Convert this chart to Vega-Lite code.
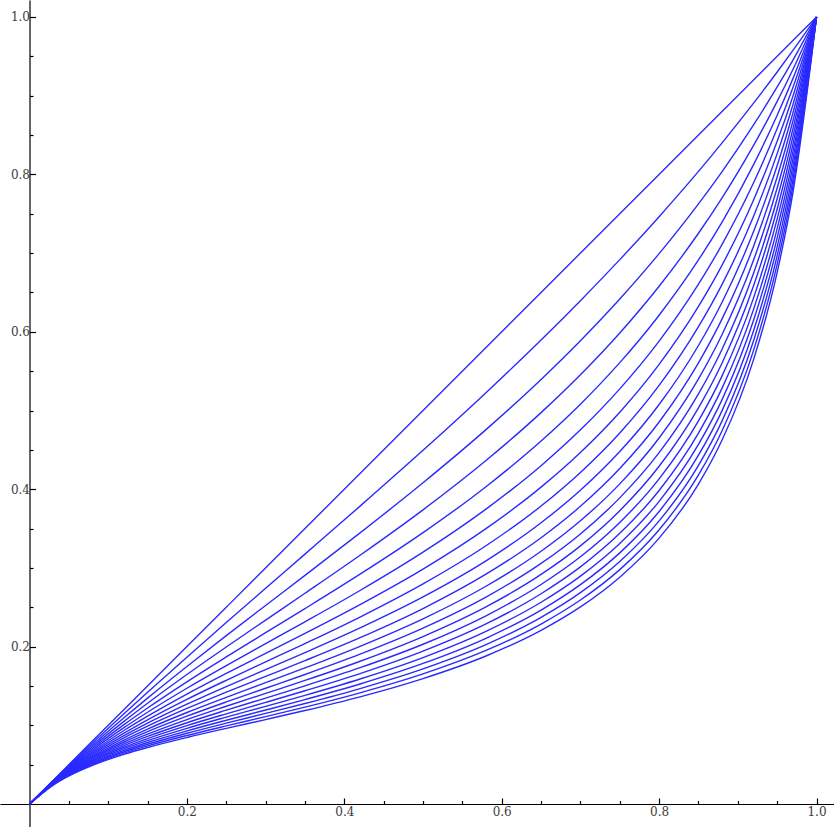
{
  "$schema": "https://vega.github.io/schema/vega-lite/v6.json",
  "width": 834,
  "height": 827,
  "autosize": {"type": "none"},
  "padding": 0,
  "background": "white",
  "config": {"view": {"stroke": null}},
  "data": {"values": [
    {"c":0,"x":0,"y":0},{"c":0,"x":0.03,"y":0.03},{"c":0,"x":0.08,"y":0.08},{"c":0,"x":0.15,"y":0.15},{"c":0,"x":0.25,"y":0.25},{"c":0,"x":0.35,"y":0.35},{"c":0,"x":0.5,"y":0.5},{"c":0,"x":0.65,"y":0.65},{"c":0,"x":0.75,"y":0.75},{"c":0,"x":0.85,"y":0.85},{"c":0,"x":0.92,"y":0.92},{"c":0,"x":0.97,"y":0.97},{"c":0,"x":1,"y":1},
    {"c":1,"x":0,"y":0},{"c":1,"x":0.03,"y":0.0296},{"c":1,"x":0.05,"y":0.0490},{"c":1,"x":0.08,"y":0.0774},{"c":1,"x":0.12,"y":0.1146},{"c":1,"x":0.15,"y":0.1419},{"c":1,"x":0.2,"y":0.1866},{"c":1,"x":0.25,"y":0.2306},{"c":1,"x":0.3,"y":0.2741},{"c":1,"x":0.35,"y":0.3175},{"c":1,"x":0.42,"y":0.3785},{"c":1,"x":0.5,"y":0.4494},{"c":1,"x":0.58,"y":0.5227},{"c":1,"x":0.65,"y":0.5896},{"c":1,"x":0.7,"y":0.6396},{"c":1,"x":0.75,"y":0.6917},{"c":1,"x":0.8,"y":0.7463},{"c":1,"x":0.85,"y":0.8038},{"c":1,"x":0.88,"y":0.8401},{"c":1,"x":0.92,"y":0.8905},{"c":1,"x":0.95,"y":0.9301},{"c":1,"x":0.97,"y":0.9575},{"c":1,"x":1,"y":1},
    {"c":2,"x":0,"y":0},{"c":2,"x":0.03,"y":0.0292},{"c":2,"x":0.05,"y":0.0480},{"c":2,"x":0.08,"y":0.0750},{"c":2,"x":0.12,"y":0.1096},{"c":2,"x":0.15,"y":0.1346},{"c":2,"x":0.2,"y":0.1748},{"c":2,"x":0.25,"y":0.2139},{"c":2,"x":0.3,"y":0.2523},{"c":2,"x":0.35,"y":0.2905},{"c":2,"x":0.42,"y":0.3445},{"c":2,"x":0.5,"y":0.4082},{"c":2,"x":0.58,"y":0.4757},{"c":2,"x":0.65,"y":0.5395},{"c":2,"x":0.7,"y":0.5887},{"c":2,"x":0.75,"y":0.6417},{"c":2,"x":0.8,"y":0.6993},{"c":2,"x":0.85,"y":0.7625},{"c":2,"x":0.88,"y":0.8036},{"c":2,"x":0.92,"y":0.8629},{"c":2,"x":0.95,"y":0.9111},{"c":2,"x":0.97,"y":0.9453},{"c":2,"x":1,"y":1},
    {"c":3,"x":0,"y":0},{"c":3,"x":0.03,"y":0.0289},{"c":3,"x":0.05,"y":0.0470},{"c":3,"x":0.08,"y":0.0728},{"c":3,"x":0.12,"y":0.1050},{"c":3,"x":0.15,"y":0.1280},{"c":3,"x":0.2,"y":0.1645},{"c":3,"x":0.25,"y":0.1995},{"c":3,"x":0.3,"y":0.2337},{"c":3,"x":0.35,"y":0.2678},{"c":3,"x":0.42,"y":0.3161},{"c":3,"x":0.5,"y":0.3738},{"c":3,"x":0.58,"y":0.4365},{"c":3,"x":0.65,"y":0.4973},{"c":3,"x":0.7,"y":0.5454},{"c":3,"x":0.75,"y":0.5985},{"c":3,"x":0.8,"y":0.6579},{"c":3,"x":0.85,"y":0.7252},{"c":3,"x":0.88,"y":0.7702},{"c":3,"x":0.92,"y":0.8368},{"c":3,"x":0.95,"y":0.8928},{"c":3,"x":0.97,"y":0.9333},{"c":3,"x":1,"y":1},
    {"c":4,"x":0,"y":0},{"c":4,"x":0.03,"y":0.0285},{"c":4,"x":0.05,"y":0.0461},{"c":4,"x":0.08,"y":0.0706},{"c":4,"x":0.12,"y":0.1008},{"c":4,"x":0.15,"y":0.1220},{"c":4,"x":0.2,"y":0.1553},{"c":4,"x":0.25,"y":0.1869},{"c":4,"x":0.3,"y":0.2177},{"c":4,"x":0.35,"y":0.2483},{"c":4,"x":0.42,"y":0.2920},{"c":4,"x":0.5,"y":0.3448},{"c":4,"x":0.58,"y":0.4032},{"c":4,"x":0.65,"y":0.4612},{"c":4,"x":0.7,"y":0.5080},{"c":4,"x":0.75,"y":0.5608},{"c":4,"x":0.8,"y":0.6211},{"c":4,"x":0.85,"y":0.6913},{"c":4,"x":0.88,"y":0.7394},{"c":4,"x":0.92,"y":0.8124},{"c":4,"x":0.95,"y":0.8752},{"c":4,"x":0.97,"y":0.9217},{"c":4,"x":1,"y":1},
    {"c":5,"x":0,"y":0},{"c":5,"x":0.03,"y":0.0282},{"c":5,"x":0.05,"y":0.0452},{"c":5,"x":0.08,"y":0.0686},{"c":5,"x":0.12,"y":0.0970},{"c":5,"x":0.15,"y":0.1166},{"c":5,"x":0.2,"y":0.1471},{"c":5,"x":0.25,"y":0.1758},{"c":5,"x":0.3,"y":0.2037},{"c":5,"x":0.35,"y":0.2315},{"c":5,"x":0.42,"y":0.2713},{"c":5,"x":0.5,"y":0.3200},{"c":5,"x":0.58,"y":0.3747},{"c":5,"x":0.65,"y":0.4299},{"c":5,"x":0.7,"y":0.4754},{"c":5,"x":0.75,"y":0.5275},{"c":5,"x":0.8,"y":0.5882},{"c":5,"x":0.85,"y":0.6605},{"c":5,"x":0.88,"y":0.7111},{"c":5,"x":0.92,"y":0.7893},{"c":5,"x":0.95,"y":0.8583},{"c":5,"x":0.97,"y":0.9104},{"c":5,"x":1,"y":1},
    {"c":6,"x":0,"y":0},{"c":6,"x":0.03,"y":0.0278},{"c":6,"x":0.05,"y":0.0443},{"c":6,"x":0.08,"y":0.0667},{"c":6,"x":0.12,"y":0.0934},{"c":6,"x":0.15,"y":0.1116},{"c":6,"x":0.2,"y":0.1397},{"c":6,"x":0.25,"y":0.1660},{"c":6,"x":0.3,"y":0.1914},{"c":6,"x":0.35,"y":0.2168},{"c":6,"x":0.42,"y":0.2534},{"c":6,"x":0.5,"y":0.2985},{"c":6,"x":0.58,"y":0.3499},{"c":6,"x":0.65,"y":0.4027},{"c":6,"x":0.7,"y":0.4467},{"c":6,"x":0.75,"y":0.4979},{"c":6,"x":0.8,"y":0.5587},{"c":6,"x":0.85,"y":0.6323},{"c":6,"x":0.88,"y":0.6848},{"c":6,"x":0.92,"y":0.7675},{"c":6,"x":0.95,"y":0.8420},{"c":6,"x":0.97,"y":0.8994},{"c":6,"x":1,"y":1},
    {"c":7,"x":0,"y":0},{"c":7,"x":0.03,"y":0.0275},{"c":7,"x":0.05,"y":0.0435},{"c":7,"x":0.08,"y":0.0649},{"c":7,"x":0.12,"y":0.0900},{"c":7,"x":0.15,"y":0.1070},{"c":7,"x":0.2,"y":0.1330},{"c":7,"x":0.25,"y":0.1572},{"c":7,"x":0.3,"y":0.1806},{"c":7,"x":0.35,"y":0.2039},{"c":7,"x":0.42,"y":0.2376},{"c":7,"x":0.5,"y":0.2797},{"c":7,"x":0.58,"y":0.3282},{"c":7,"x":0.65,"y":0.3786},{"c":7,"x":0.7,"y":0.4213},{"c":7,"x":0.75,"y":0.4715},{"c":7,"x":0.8,"y":0.5319},{"c":7,"x":0.85,"y":0.6065},{"c":7,"x":0.88,"y":0.6603},{"c":7,"x":0.92,"y":0.7469},{"c":7,"x":0.95,"y":0.8264},{"c":7,"x":0.97,"y":0.8885},{"c":7,"x":1,"y":1},
    {"c":8,"x":0,"y":0},{"c":8,"x":0.03,"y":0.0272},{"c":8,"x":0.05,"y":0.0427},{"c":8,"x":0.08,"y":0.0632},{"c":8,"x":0.12,"y":0.0869},{"c":8,"x":0.15,"y":0.1028},{"c":8,"x":0.2,"y":0.1269},{"c":8,"x":0.25,"y":0.1493},{"c":8,"x":0.3,"y":0.1708},{"c":8,"x":0.35,"y":0.1924},{"c":8,"x":0.42,"y":0.2238},{"c":8,"x":0.5,"y":0.2632},{"c":8,"x":0.58,"y":0.3090},{"c":8,"x":0.65,"y":0.3574},{"c":8,"x":0.7,"y":0.3986},{"c":8,"x":0.75,"y":0.4478},{"c":8,"x":0.8,"y":0.5076},{"c":8,"x":0.85,"y":0.5826},{"c":8,"x":0.88,"y":0.6376},{"c":8,"x":0.92,"y":0.7273},{"c":8,"x":0.95,"y":0.8113},{"c":8,"x":0.97,"y":0.8780},{"c":8,"x":1,"y":1},
    {"c":9,"x":0,"y":0},{"c":9,"x":0.03,"y":0.0268},{"c":9,"x":0.05,"y":0.0419},{"c":9,"x":0.08,"y":0.0616},{"c":9,"x":0.12,"y":0.0841},{"c":9,"x":0.15,"y":0.0989},{"c":9,"x":0.2,"y":0.1214},{"c":9,"x":0.25,"y":0.1421},{"c":9,"x":0.3,"y":0.1621},{"c":9,"x":0.35,"y":0.1822},{"c":9,"x":0.42,"y":0.2114},{"c":9,"x":0.5,"y":0.2484},{"c":9,"x":0.58,"y":0.2920},{"c":9,"x":0.65,"y":0.3383},{"c":9,"x":0.7,"y":0.3783},{"c":9,"x":0.75,"y":0.4263},{"c":9,"x":0.8,"y":0.4854},{"c":9,"x":0.85,"y":0.5606},{"c":9,"x":0.88,"y":0.6164},{"c":9,"x":0.92,"y":0.7088},{"c":9,"x":0.95,"y":0.7967},{"c":9,"x":0.97,"y":0.8678},{"c":9,"x":1,"y":1},
    {"c":10,"x":0,"y":0},{"c":10,"x":0.03,"y":0.0265},{"c":10,"x":0.05,"y":0.0412},{"c":10,"x":0.08,"y":0.0601},{"c":10,"x":0.12,"y":0.0813},{"c":10,"x":0.15,"y":0.0953},{"c":10,"x":0.2,"y":0.1163},{"c":10,"x":0.25,"y":0.1356},{"c":10,"x":0.3,"y":0.1542},{"c":10,"x":0.35,"y":0.1729},{"c":10,"x":0.42,"y":0.2004},{"c":10,"x":0.5,"y":0.2353},{"c":10,"x":0.58,"y":0.2767},{"c":10,"x":0.65,"y":0.3212},{"c":10,"x":0.7,"y":0.3599},{"c":10,"x":0.75,"y":0.4068},{"c":10,"x":0.8,"y":0.4651},{"c":10,"x":0.85,"y":0.5401},{"c":10,"x":0.88,"y":0.5965},{"c":10,"x":0.92,"y":0.6911},{"c":10,"x":0.95,"y":0.7827},{"c":10,"x":0.97,"y":0.8577},{"c":10,"x":1,"y":1},
    {"c":11,"x":0,"y":0},{"c":11,"x":0.03,"y":0.0262},{"c":11,"x":0.05,"y":0.0405},{"c":11,"x":0.08,"y":0.0586},{"c":11,"x":0.12,"y":0.0788},{"c":11,"x":0.15,"y":0.0920},{"c":11,"x":0.2,"y":0.1116},{"c":11,"x":0.25,"y":0.1297},{"c":11,"x":0.3,"y":0.1471},{"c":11,"x":0.35,"y":0.1646},{"c":11,"x":0.42,"y":0.1904},{"c":11,"x":0.5,"y":0.2235},{"c":11,"x":0.58,"y":0.2629},{"c":11,"x":0.65,"y":0.3057},{"c":11,"x":0.7,"y":0.3432},{"c":11,"x":0.75,"y":0.3890},{"c":11,"x":0.8,"y":0.4464},{"c":11,"x":0.85,"y":0.5211},{"c":11,"x":0.88,"y":0.5779},{"c":11,"x":0.92,"y":0.6744},{"c":11,"x":0.95,"y":0.7691},{"c":11,"x":0.97,"y":0.8479},{"c":11,"x":1,"y":1},
    {"c":12,"x":0,"y":0},{"c":12,"x":0.03,"y":0.0259},{"c":12,"x":0.05,"y":0.0398},{"c":12,"x":0.08,"y":0.0572},{"c":12,"x":0.12,"y":0.0764},{"c":12,"x":0.15,"y":0.0888},{"c":12,"x":0.2,"y":0.1073},{"c":12,"x":0.25,"y":0.1242},{"c":12,"x":0.3,"y":0.1406},{"c":12,"x":0.35,"y":0.1570},{"c":12,"x":0.42,"y":0.1814},{"c":12,"x":0.5,"y":0.2128},{"c":12,"x":0.58,"y":0.2505},{"c":12,"x":0.65,"y":0.2917},{"c":12,"x":0.7,"y":0.3280},{"c":12,"x":0.75,"y":0.3727},{"c":12,"x":0.8,"y":0.4292},{"c":12,"x":0.85,"y":0.5034},{"c":12,"x":0.88,"y":0.5604},{"c":12,"x":0.92,"y":0.6584},{"c":12,"x":0.95,"y":0.7561},{"c":12,"x":0.97,"y":0.8383},{"c":12,"x":1,"y":1},
    {"c":13,"x":0,"y":0},{"c":13,"x":0.03,"y":0.0256},{"c":13,"x":0.05,"y":0.0391},{"c":13,"x":0.08,"y":0.0559},{"c":13,"x":0.12,"y":0.0742},{"c":13,"x":0.15,"y":0.0859},{"c":13,"x":0.2,"y":0.1033},{"c":13,"x":0.25,"y":0.1192},{"c":13,"x":0.3,"y":0.1346},{"c":13,"x":0.35,"y":0.1502},{"c":13,"x":0.42,"y":0.1732},{"c":13,"x":0.5,"y":0.2030},{"c":13,"x":0.58,"y":0.2392},{"c":13,"x":0.65,"y":0.2789},{"c":13,"x":0.7,"y":0.3141},{"c":13,"x":0.75,"y":0.3577},{"c":13,"x":0.8,"y":0.4132},{"c":13,"x":0.85,"y":0.4869},{"c":13,"x":0.88,"y":0.5440},{"c":13,"x":0.92,"y":0.6431},{"c":13,"x":0.95,"y":0.7434},{"c":13,"x":0.97,"y":0.8289},{"c":13,"x":1,"y":1},
    {"c":14,"x":0,"y":0},{"c":14,"x":0.03,"y":0.0254},{"c":14,"x":0.05,"y":0.0385},{"c":14,"x":0.08,"y":0.0547},{"c":14,"x":0.12,"y":0.0721},{"c":14,"x":0.15,"y":0.0832},{"c":14,"x":0.2,"y":0.0996},{"c":14,"x":0.25,"y":0.1146},{"c":14,"x":0.3,"y":0.1291},{"c":14,"x":0.35,"y":0.1439},{"c":14,"x":0.42,"y":0.1657},{"c":14,"x":0.5,"y":0.1942},{"c":14,"x":0.58,"y":0.2288},{"c":14,"x":0.65,"y":0.2672},{"c":14,"x":0.7,"y":0.3013},{"c":14,"x":0.75,"y":0.3439},{"c":14,"x":0.8,"y":0.3984},{"c":14,"x":0.85,"y":0.4713},{"c":14,"x":0.88,"y":0.5284},{"c":14,"x":0.92,"y":0.6285},{"c":14,"x":0.95,"y":0.7312},{"c":14,"x":0.97,"y":0.8197},{"c":14,"x":1,"y":1},
    {"c":15,"x":0,"y":0},{"c":15,"x":0.03,"y":0.0251},{"c":15,"x":0.05,"y":0.0379},{"c":15,"x":0.08,"y":0.0534},{"c":15,"x":0.12,"y":0.0701},{"c":15,"x":0.15,"y":0.0806},{"c":15,"x":0.2,"y":0.0962},{"c":15,"x":0.25,"y":0.1104},{"c":15,"x":0.3,"y":0.1241},{"c":15,"x":0.35,"y":0.1380},{"c":15,"x":0.42,"y":0.1588},{"c":15,"x":0.5,"y":0.1860},{"c":15,"x":0.58,"y":0.2193},{"c":15,"x":0.65,"y":0.2564},{"c":15,"x":0.7,"y":0.2896},{"c":15,"x":0.75,"y":0.3311},{"c":15,"x":0.8,"y":0.3846},{"c":15,"x":0.85,"y":0.4569},{"c":15,"x":0.88,"y":0.5138},{"c":15,"x":0.92,"y":0.6147},{"c":15,"x":0.95,"y":0.7194},{"c":15,"x":0.97,"y":0.8107},{"c":15,"x":1,"y":1},
    {"c":16,"x":0,"y":0},{"c":16,"x":0.03,"y":0.0248},{"c":16,"x":0.05,"y":0.0373},{"c":16,"x":0.08,"y":0.0523},{"c":16,"x":0.12,"y":0.0682},{"c":16,"x":0.15,"y":0.0782},{"c":16,"x":0.2,"y":0.0929},{"c":16,"x":0.25,"y":0.1064},{"c":16,"x":0.3,"y":0.1194},{"c":16,"x":0.35,"y":0.1327},{"c":16,"x":0.42,"y":0.1525},{"c":16,"x":0.5,"y":0.1786},{"c":16,"x":0.58,"y":0.2106},{"c":16,"x":0.65,"y":0.2464},{"c":16,"x":0.7,"y":0.2787},{"c":16,"x":0.75,"y":0.3191},{"c":16,"x":0.8,"y":0.3717},{"c":16,"x":0.85,"y":0.4432},{"c":16,"x":0.88,"y":0.4999},{"c":16,"x":0.92,"y":0.6013},{"c":16,"x":0.95,"y":0.7079},{"c":16,"x":0.97,"y":0.8020},{"c":16,"x":1,"y":1},
    {"c":17,"x":0,"y":0},{"c":17,"x":0.03,"y":0.0245},{"c":17,"x":0.05,"y":0.0367},{"c":17,"x":0.08,"y":0.0512},{"c":17,"x":0.12,"y":0.0664},{"c":17,"x":0.15,"y":0.0759},{"c":17,"x":0.2,"y":0.0899},{"c":17,"x":0.25,"y":0.1027},{"c":17,"x":0.3,"y":0.1151},{"c":17,"x":0.35,"y":0.1277},{"c":17,"x":0.42,"y":0.1467},{"c":17,"x":0.5,"y":0.1717},{"c":17,"x":0.58,"y":0.2025},{"c":17,"x":0.65,"y":0.2372},{"c":17,"x":0.7,"y":0.2686},{"c":17,"x":0.75,"y":0.3081},{"c":17,"x":0.8,"y":0.3597},{"c":17,"x":0.85,"y":0.4303},{"c":17,"x":0.88,"y":0.4868},{"c":17,"x":0.92,"y":0.5886},{"c":17,"x":0.95,"y":0.6968},{"c":17,"x":0.97,"y":0.7934},{"c":17,"x":1,"y":1},
    {"c":18,"x":0,"y":0},{"c":18,"x":0.03,"y":0.0243},{"c":18,"x":0.05,"y":0.0361},{"c":18,"x":0.08,"y":0.0501},{"c":18,"x":0.12,"y":0.0647},{"c":18,"x":0.15,"y":0.0738},{"c":18,"x":0.2,"y":0.0871},{"c":18,"x":0.25,"y":0.0993},{"c":18,"x":0.3,"y":0.1111},{"c":18,"x":0.35,"y":0.1231},{"c":18,"x":0.42,"y":0.1413},{"c":18,"x":0.5,"y":0.1653},{"c":18,"x":0.58,"y":0.1951},{"c":18,"x":0.65,"y":0.2287},{"c":18,"x":0.7,"y":0.2592},{"c":18,"x":0.75,"y":0.2978},{"c":18,"x":0.8,"y":0.3484},{"c":18,"x":0.85,"y":0.4181},{"c":18,"x":0.88,"y":0.4743},{"c":18,"x":0.92,"y":0.5764},{"c":18,"x":0.95,"y":0.6860},{"c":18,"x":0.97,"y":0.7850},{"c":18,"x":1,"y":1},
    {"c":19,"x":0,"y":0},{"c":19,"x":0.03,"y":0.0240},{"c":19,"x":0.05,"y":0.0356},{"c":19,"x":0.08,"y":0.0491},{"c":19,"x":0.12,"y":0.0631},{"c":19,"x":0.15,"y":0.0718},{"c":19,"x":0.2,"y":0.0845},{"c":19,"x":0.25,"y":0.0961},{"c":19,"x":0.3,"y":0.1073},{"c":19,"x":0.35,"y":0.1188},{"c":19,"x":0.42,"y":0.1362},{"c":19,"x":0.5,"y":0.1594},{"c":19,"x":0.58,"y":0.1881},{"c":19,"x":0.65,"y":0.2207},{"c":19,"x":0.7,"y":0.2504},{"c":19,"x":0.75,"y":0.2882},{"c":19,"x":0.8,"y":0.3378},{"c":19,"x":0.85,"y":0.4066},{"c":19,"x":0.88,"y":0.4625},{"c":19,"x":0.92,"y":0.5647},{"c":19,"x":0.95,"y":0.6756},{"c":19,"x":0.97,"y":0.7768},{"c":19,"x":1,"y":1}
  ]},
  "mark": {"type": "line", "stroke": "#2a2aff", "strokeWidth": 1.4, "interpolate": "monotone"},
  "encoding": {
    "x": {
      "field": "x", "type": "quantitative",
      "scale": {"domain": [-0.0375, 1.0222], "nice": false, "zero": false},
      "axis": {
        "title": null, "orient": "bottom", "offset": -23, "grid": false,
        "values": [0.05,0.1,0.15,0.2,0.25,0.3,0.35,0.4,0.45,0.5,0.55,0.6,0.65,0.7,0.75,0.8,0.85,0.9,0.95,1.0],
        "tickSize": {"condition": {"test": "abs(datum.value*5 - round(datum.value*5)) < 0.001", "value": -6}, "value": -3.5},
        "labelExpr": "abs(datum.value*5 - round(datum.value*5)) < 0.001 ? format(datum.value, '.1f') : ''",
        "labelPadding": 8, "labelFlush": false, "labelOverlap": false,
        "labelFont": "DejaVu Serif", "labelFontSize": 12, "labelColor": "#3c3c3c",
        "domainColor": "#000000", "domainWidth": 1.2, "tickColor": "#000000", "tickWidth": 1.2
      }
    },
    "y": {
      "field": "y", "type": "quantitative",
      "scale": {"domain": [-0.0292, 1.0216], "nice": false, "zero": false},
      "axis": {
        "title": null, "orient": "left", "offset": -29.5, "grid": false,
        "values": [0.05,0.1,0.15,0.2,0.25,0.3,0.35,0.4,0.45,0.5,0.55,0.6,0.65,0.7,0.75,0.8,0.85,0.9,0.95,1.0],
        "tickSize": {"condition": {"test": "abs(datum.value*5 - round(datum.value*5)) < 0.001", "value": -6}, "value": -3.5},
        "labelExpr": "abs(datum.value*5 - round(datum.value*5)) < 0.001 ? format(datum.value, '.1f') : ''",
        "labelPadding": 6, "labelFlush": false, "labelOverlap": false,
        "labelFont": "DejaVu Serif", "labelFontSize": 12, "labelColor": "#3c3c3c",
        "domainColor": "#000000", "domainWidth": 1.2, "tickColor": "#000000", "tickWidth": 1.2
      }
    },
    "detail": {"field": "c", "type": "nominal"}
  }
}
